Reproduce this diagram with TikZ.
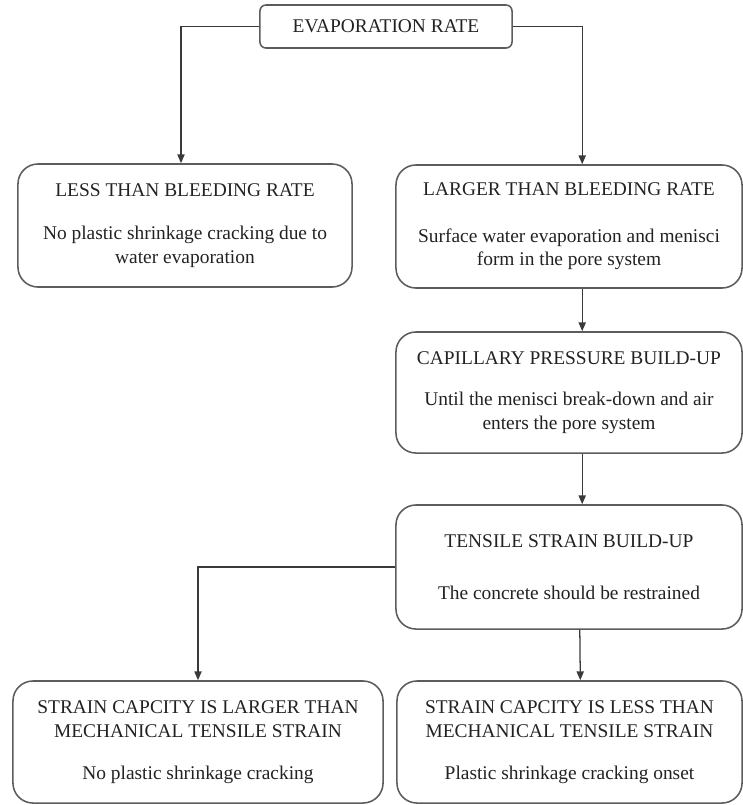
\documentclass[tikz,border=0pt]{standalone}
\usepackage{fontspec}
\setmainfont{Liberation Serif}
\usepackage{xcolor}
\usepackage{tikz}
\usetikzlibrary{arrows.meta}
\definecolor{FCBorder}{HTML}{5C5C5C}
\definecolor{FCLine}{HTML}{3A3A3A}
\definecolor{FCText}{HTML}{222222}

\begin{document}
\begin{tikzpicture}[x=0.025cm,y=-0.025cm,
  box/.style={draw=FCBorder,line width=1.1pt,rounded corners=0.5cm,align=center,
    text=FCText,font=\fontsize{13.8}{17}\selectfont,inner sep=0pt,minimum height=3.05cm},
  conn/.style={draw=FCLine,line width=0.9pt,-{Triangle[length=2.2mm,width=1.8mm]}}]
\path[use as bounding box] (0,0) rectangle (743,805);
% boxes
\node[box,minimum width=6.3cm,minimum height=1.075cm,rounded corners=0.15cm] (evap) at (386,26.5) {EVAPORATION RATE};
\node[box,minimum width=8.35cm,minimum height=3.075cm] (less) at (185,225.5)
  {LESS THAN BLEEDING RATE\\[14pt]No plastic shrinkage cracking due to\\water evaporation};
\node[box,minimum width=8.65cm,minimum height=3.075cm] (larger) at (569,226.5)
  {LARGER THAN BLEEDING RATE\\[16pt]Surface water evaporation and menisci\\form in the pore system};
\node[box,minimum width=8.65cm,minimum height=3.025cm] (capil) at (569,392.5)
  {CAPILLARY PRESSURE BUILD-UP\\[12pt]Until the menisci break-down and air\\enters the pore system};
\node[box,minimum width=8.65cm,minimum height=3.1cm] (tensile) at (569,567)
  {TENSILE STRAIN BUILD-UP\\[20pt]The concrete should be restrained};
\node[box,minimum width=9.25cm] (strainhi) at (198,742)
  {STRAIN CAPCITY IS LARGER THAN\\MECHANICAL TENSILE STRAIN\\[13pt]No plastic shrinkage cracking};
\node[box,minimum width=8.625cm] (strainlo) at (569.5,742)
  {STRAIN CAPCITY IS LESS THAN\\MECHANICAL TENSILE STRAIN\\[13pt]Plastic shrinkage cracking onset};
% connectors
\draw[conn] (evap.west) -| ([xshift=-0.1cm]less.north);
\draw[conn] (evap.east) -| ([xshift=0.33cm]larger.north);
\draw[conn] ([xshift=0.33cm]larger.south) -- ([xshift=0.33cm]capil.north);
\draw[conn] ([xshift=0.33cm]capil.south) -- ([xshift=0.33cm]tensile.north);
\draw[conn] ([xshift=0.27cm]tensile.south) -- ([xshift=0.27cm]strainlo.north);
\draw[conn] (tensile.west) -| (strainhi.north);
\end{tikzpicture}
\end{document}
